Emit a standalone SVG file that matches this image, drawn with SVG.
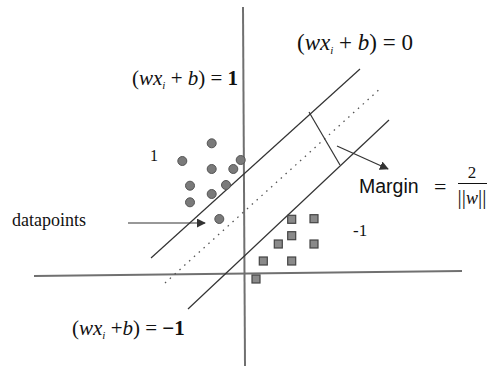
<svg xmlns="http://www.w3.org/2000/svg" width="488" height="369" viewBox="0 0 488 369">
<defs>
<style>
.axis{stroke:#707070;stroke-width:2;fill:none}
.ln{stroke:#333;stroke-width:1.2;fill:none}
.dash{stroke:#555;stroke-width:1.3;stroke-dasharray:1.5 5;fill:none}
.pt{fill:#7a7a7a;stroke:#555;stroke-width:1}
.sq{fill:#8a8a8a;stroke:#444;stroke-width:1.2}
.f{font-family:"Liberation Serif","Times New Roman",serif;fill:#111}
.it{font-style:italic}
.s{font-family:"Liberation Sans",Arial,sans-serif;fill:#111}
</style>
<marker id="ah" viewBox="0 0 10 10" refX="9" refY="5" markerWidth="9" markerHeight="9" markerUnits="userSpaceOnUse" orient="auto">
<path d="M0,0 L10,5 L0,10 z" fill="#333"/>
</marker>
</defs>
<rect width="488" height="369" fill="#fff"/>
<g id="connectors">
<line class="axis" x1="243" y1="7" x2="245" y2="366"/>
<line class="axis" x1="34" y1="276" x2="462" y2="271"/>
<line class="ln" x1="151" y1="258" x2="360" y2="69"/>
<line class="ln" x1="188" y1="309" x2="389" y2="120"/>
<line class="dash" x1="165" y1="283" x2="382" y2="87"/>
<line class="ln" x1="309" y1="112" x2="340" y2="165"/>
<line class="ln" x1="337" y1="146" x2="388" y2="169" marker-end="url(#ah)"/>
<line class="ln" x1="128" y1="223" x2="205" y2="223" stroke-width="1.6" marker-end="url(#ah)"/>
</g>
<g id="class-pos">
<circle class="pt" cx="211.7" cy="143.3" r="4.5"/>
<circle class="pt" cx="182.3" cy="161" r="4.5"/>
<circle class="pt" cx="211.7" cy="169" r="4.5"/>
<circle class="pt" cx="233.3" cy="169" r="4.5"/>
<circle class="pt" cx="240.7" cy="160" r="4.5"/>
<circle class="pt" cx="190" cy="185.7" r="4.5"/>
<circle class="pt" cx="211.7" cy="194" r="4.5"/>
<circle class="pt" cx="226" cy="185" r="4.5"/>
<circle class="pt" cx="190" cy="202.3" r="4.5"/>
<circle class="pt" cx="219.3" cy="219" r="4.5"/>
</g>
<g id="class-neg">
<rect class="sq" x="287.7" y="215.3" width="8" height="8"/>
<rect class="sq" x="310" y="214.7" width="8" height="8"/>
<rect class="sq" x="287.7" y="231.7" width="8" height="8"/>
<rect class="sq" x="274.3" y="240" width="8" height="8"/>
<rect class="sq" x="310" y="240" width="8" height="8"/>
<rect class="sq" x="259.3" y="257" width="8" height="8"/>
<rect class="sq" x="287.7" y="257" width="8" height="8"/>
<rect class="sq" x="252" y="275" width="8" height="8"/>
</g>
<g id="label-zero">
<text class="f" x="297" y="50" font-size="23">(<tspan class="it">wx</tspan><tspan class="it" font-size="11" dy="4">i</tspan><tspan dy="-4"> + </tspan><tspan class="it">b</tspan>) = 0</text>
</g>
<g id="label-one">
<text class="f" x="132" y="85" font-size="21">(<tspan class="it">wx</tspan><tspan class="it" font-size="11" dy="4">i</tspan><tspan dy="-4"> + </tspan><tspan class="it">b</tspan>) = <tspan font-weight="bold">1</tspan></text>
</g>
<g id="label-minus-one">
<text class="f" x="72" y="335" font-size="21">(<tspan class="it">wx</tspan><tspan class="it" font-size="11" dy="4">i</tspan><tspan dy="-4"> +</tspan><tspan class="it">b</tspan>) = <tspan font-weight="bold">−1</tspan></text>
</g>
<g id="label-pos">
<text class="f" x="150" y="161" font-size="16">1</text>
</g>
<g id="label-neg">
<text class="f" x="353" y="236" font-size="17">-1</text>
</g>
<g id="datapoints">
<text class="f" x="12" y="226" font-size="18">datapoints</text>
</g>
<g id="margin">
<text class="s" x="359" y="193" font-size="19.5">Margin</text>
<text class="f" x="434" y="194" font-size="22">=</text>
<text class="f" x="472" y="178" font-size="17" text-anchor="middle">2</text>
<line x1="458" y1="183.5" x2="487" y2="183.5" stroke="#111" stroke-width="1"/>
<text class="f" x="472" y="204" font-size="21" text-anchor="middle">||<tspan class="it" font-size="18">w</tspan>||</text>
</g>
</svg>
